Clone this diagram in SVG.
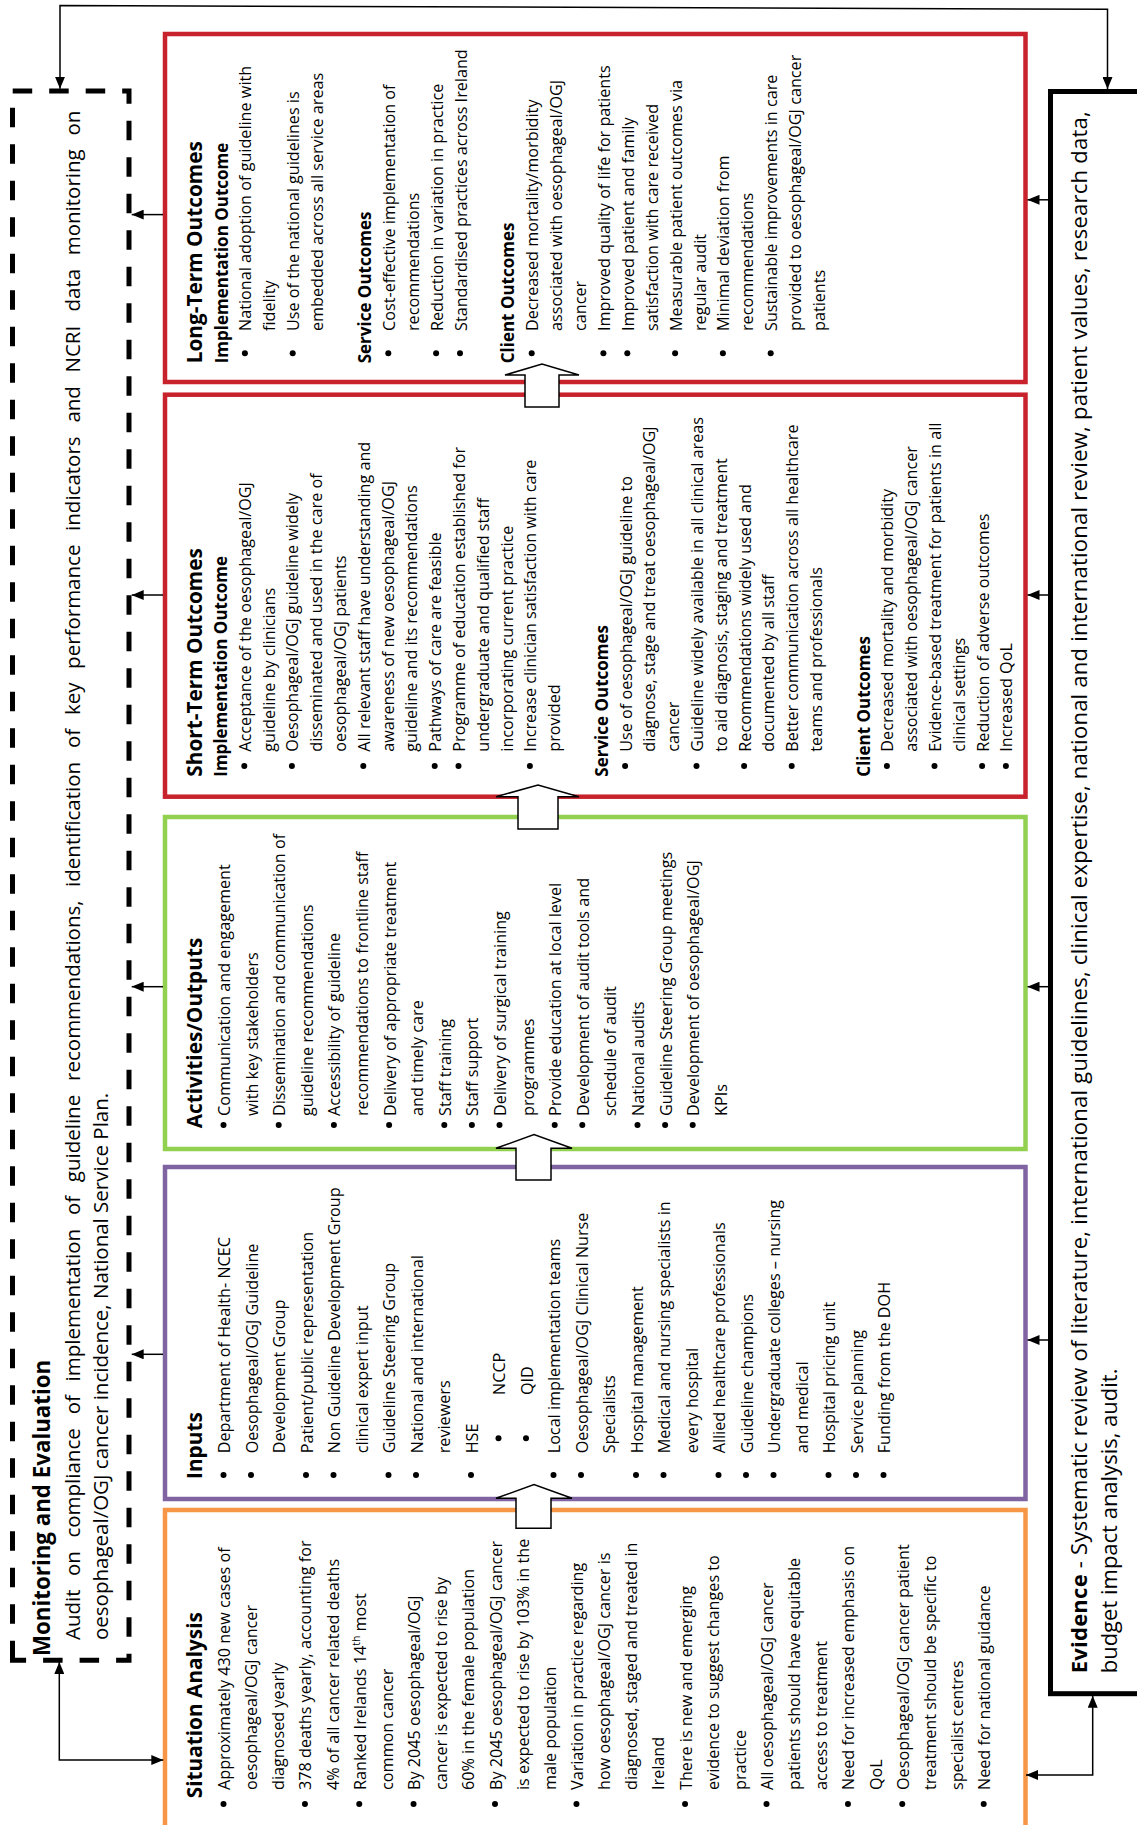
<svg xmlns="http://www.w3.org/2000/svg" width="1137" height="1825" viewBox="0 0 1137 1825">
<defs>
<style>
.box{fill:#fff;stroke-width:4.5}
.t{font-family:"Open Sans","Liberation Sans",sans-serif;font-size:16.2px;fill:#000}
.ti{font-family:"Open Sans","Liberation Sans",sans-serif;font-size:20.8px;font-weight:700;fill:#000}
.sh{font-weight:700;font-size:17px}
.bu{fill:#000}
.c{fill:none;stroke:#000;stroke-width:1.5}
.blk{fill:#fff;stroke:#000;stroke-width:1.5;stroke-linejoin:miter}
</style>
<marker id="ah" viewBox="0 0 12 10" refX="12" refY="5" markerWidth="12" markerHeight="10" markerUnits="userSpaceOnUse" orient="auto-start-reverse"><path d="M0,0 L12,5 L0,10 z" fill="#000"/></marker>
</defs>
<rect width="1137" height="1825" fill="#fff"/>
<g transform="translate(0,1825) rotate(-90)">

<g id="node-monitoring">
<rect x="164.7" y="12.5" width="1569.3" height="116.5" fill="#fff" stroke="#000" stroke-width="5" stroke-dasharray="19.5 17"/>
<text class="ti" x="169" y="50" style="font-size:22.3px">Monitoring and Evaluation</text>
<text class="t" y="80" style="font-size:20.5px"><tspan x="185">Audit</tspan><tspan x="249">on</tspan><tspan x="287.4">compliance</tspan><tspan x="410.7">of</tspan><tspan x="443.6">implementation</tspan><tspan x="609.9">of</tspan><tspan x="642.8">guideline</tspan><tspan x="744.1">recommendations,</tspan><tspan x="938.1">identification</tspan><tspan x="1077">of</tspan><tspan x="1109.9">key</tspan><tspan x="1156.1">performance</tspan><tspan x="1294.1">indicators</tspan><tspan x="1402.4">and</tspan><tspan x="1452.5">NCRI</tspan><tspan x="1513.5">data</tspan><tspan x="1569.7">monitoring</tspan><tspan x="1689.5">on</tspan></text>
<text class="t" x="185" y="107.5" style="font-size:20.5px">oesophageal/OGJ cancer incidence, National Service Plan.</text>
</g>

<g id="node-evidence">
<rect x="131.3" y="1050.5" width="1602.2" height="220" fill="#fff" stroke="#000" stroke-width="5"/>
<text class="t" x="151.7" y="1086.7" style="font-size:22px" textLength="1562" lengthAdjust="spacing"><tspan font-weight="700">Evidence</tspan> - Systematic review of literature, international guidelines, clinical expertise, national and international review, patient values, research data,</text>
<text class="t" x="151.7" y="1117" style="font-size:22px">budget impact analysis, audit.</text>
</g>

<g id="node-situation">
<rect class="box" x="-10" y="165" width="325" height="860.5" stroke="#F79646"/>
<text class="ti" x="26.7" y="201.7">Situation Analysis</text>
<g class="bu">
<circle cx="21" cy="223.5" r="3"/><circle cx="21" cy="304.95" r="3"/><circle cx="21" cy="359.25" r="3"/><circle cx="21" cy="413.55" r="3"/><circle cx="21" cy="495" r="3"/><circle cx="21" cy="576.45" r="3"/><circle cx="21" cy="685.05" r="3"/><circle cx="21" cy="766.5" r="3"/><circle cx="21" cy="847.95" r="3"/><circle cx="21" cy="902.25" r="3"/><circle cx="21" cy="983.7" r="3"/>
</g>
<text class="t">
<tspan x="35" y="230">Approximately 430 new cases of</tspan>
<tspan x="35" y="257.15">oesophageal/OGJ cancer</tspan>
<tspan x="35" y="284.3">diagnosed yearly</tspan>
<tspan x="35" y="311.45">378 deaths yearly, accounting for</tspan>
<tspan x="35" y="338.6">4% of all cancer related deaths</tspan>
<tspan x="35" y="365.75">Ranked Irelands 14</tspan><tspan dy="-6" style="font-size:10.5px">th</tspan><tspan dy="6"> most</tspan>
<tspan x="35" y="392.9">common cancer</tspan>
<tspan x="35" y="420.05">By 2045 oesophageal/OGJ</tspan>
<tspan x="35" y="447.2">cancer is expected to rise by</tspan>
<tspan x="35" y="474.35">60% in the female population</tspan>
<tspan x="35" y="501.5">By 2045 oesophageal/OGJ cancer</tspan>
<tspan x="35" y="528.65">is expected to rise by 103% in the</tspan>
<tspan x="35" y="555.8">male population</tspan>
<tspan x="35" y="582.95">Variation in practice regarding</tspan>
<tspan x="35" y="610.1">how oesophageal/OGJ cancer is</tspan>
<tspan x="35" y="637.25">diagnosed, staged and treated in</tspan>
<tspan x="35" y="664.4">Ireland</tspan>
<tspan x="35" y="691.55">There is new and emerging</tspan>
<tspan x="35" y="718.7">evidence to suggest changes to</tspan>
<tspan x="35" y="745.85">practice</tspan>
<tspan x="35" y="773">All oesophageal/OGJ cancer</tspan>
<tspan x="35" y="800.15">patients should have equitable</tspan>
<tspan x="35" y="827.3">access to treatment</tspan>
<tspan x="35" y="854.45">Need for increased emphasis on</tspan>
<tspan x="35" y="881.6">QoL</tspan>
<tspan x="35" y="908.75">Oesophageal/OGJ cancer patient</tspan>
<tspan x="35" y="935.9">treatment should be specific to</tspan>
<tspan x="35" y="963.05">specialist centres</tspan>
<tspan x="35" y="990.2">Need for national guidance</tspan>
</text>
</g>

<g id="node-inputs">
<rect class="box" x="326" y="165" width="332" height="860.5" stroke="#8064A2"/>
<text class="ti" x="346" y="201.7">Inputs</text>
<g class="bu">
<circle cx="350" cy="223.5" r="3"/><circle cx="350" cy="251" r="3"/><circle cx="350" cy="306" r="3"/><circle cx="350" cy="333.5" r="3"/><circle cx="350" cy="388.5" r="3"/><circle cx="350" cy="416" r="3"/><circle cx="350" cy="471" r="3"/><circle cx="386.7" cy="498.5" r="3"/><circle cx="386.7" cy="526" r="3"/><circle cx="350" cy="553.5" r="3"/><circle cx="350" cy="581" r="3"/><circle cx="350" cy="636" r="3"/><circle cx="350" cy="663.5" r="3"/><circle cx="350" cy="718.5" r="3"/><circle cx="350" cy="746" r="3"/><circle cx="350" cy="773.5" r="3"/><circle cx="350" cy="828.5" r="3"/><circle cx="350" cy="856" r="3"/><circle cx="350" cy="883.5" r="3"/>
</g>
<text class="t">
<tspan x="371.7" y="230">Department of Health- NCEC</tspan>
<tspan x="371.7" y="257.5">Oesophageal/OGJ Guideline</tspan>
<tspan x="371.7" y="285">Development Group</tspan>
<tspan x="371.7" y="312.5">Patient/public representation</tspan>
<tspan x="371.7" y="340">Non Guideline Development Group</tspan>
<tspan x="371.7" y="367.5">clinical expert input</tspan>
<tspan x="371.7" y="395">Guideline Steering Group</tspan>
<tspan x="371.7" y="422.5">National and international</tspan>
<tspan x="371.7" y="450">reviewers</tspan>
<tspan x="371.7" y="477.5">HSE</tspan>
<tspan x="430" y="505">NCCP</tspan>
<tspan x="430" y="532.5">QID</tspan>
<tspan x="371.7" y="560">Local implementation teams</tspan>
<tspan x="371.7" y="587.5">Oesophageal/OGJ Clinical Nurse</tspan>
<tspan x="371.7" y="615">Specialists</tspan>
<tspan x="371.7" y="642.5">Hospital management</tspan>
<tspan x="371.7" y="670">Medical and nursing specialists in</tspan>
<tspan x="371.7" y="697.5">every hospital</tspan>
<tspan x="371.7" y="725">Allied healthcare professionals</tspan>
<tspan x="371.7" y="752.5">Guideline champions</tspan>
<tspan x="371.7" y="780">Undergraduate colleges – nursing</tspan>
<tspan x="371.7" y="807.5">and medical</tspan>
<tspan x="371.7" y="835">Hospital pricing unit</tspan>
<tspan x="371.7" y="862.5">Service planning</tspan>
<tspan x="371.7" y="890">Funding from the DOH</tspan>
</text>
</g>

<g id="node-activities">
<rect class="box" x="676" y="165" width="332" height="860.5" stroke="#92D050"/>
<text class="ti" x="696.7" y="201.7">Activities/Outputs</text>
<g class="bu">
<circle cx="700" cy="223.5" r="3"/><circle cx="700" cy="278.7" r="3"/><circle cx="700" cy="333.9" r="3"/><circle cx="700" cy="389.1" r="3"/><circle cx="700" cy="444.3" r="3"/><circle cx="700" cy="471.9" r="3"/><circle cx="700" cy="499.5" r="3"/><circle cx="700" cy="554.7" r="3"/><circle cx="700" cy="582.3" r="3"/><circle cx="700" cy="637.5" r="3"/><circle cx="700" cy="665.1" r="3"/><circle cx="700" cy="692.7" r="3"/>
</g>
<text class="t">
<tspan x="709" y="230">Communication and engagement</tspan>
<tspan x="709" y="257.6">with key stakeholders</tspan>
<tspan x="709" y="285.2">Dissemination and communication of</tspan>
<tspan x="709" y="312.8">guideline recommendations</tspan>
<tspan x="709" y="340.4">Accessibility of guideline</tspan>
<tspan x="709" y="368">recommendations to frontline staff</tspan>
<tspan x="709" y="395.6">Delivery of appropriate treatment</tspan>
<tspan x="709" y="423.2">and timely care</tspan>
<tspan x="709" y="450.8">Staff training</tspan>
<tspan x="709" y="478.4">Staff support</tspan>
<tspan x="709" y="506">Delivery of surgical training</tspan>
<tspan x="709" y="533.6">programmes</tspan>
<tspan x="709" y="561.2">Provide education at local level</tspan>
<tspan x="709" y="588.8">Development of audit tools and</tspan>
<tspan x="709" y="616.4">schedule of audit</tspan>
<tspan x="709" y="644">National audits</tspan>
<tspan x="709" y="671.6">Guideline Steering Group meetings</tspan>
<tspan x="709" y="699.2">Development of oesophageal/OGJ</tspan>
<tspan x="709" y="726.8">KPIs</tspan>
</text>
</g>

<g id="node-short-term">
<rect class="box" x="1028.3" y="165" width="402" height="860.5" stroke="#C8232C"/>
<text class="ti" x="1048.3" y="201.7">Short-Term Outcomes</text>
<g class="bu">
<circle cx="1059" cy="244.3" r="3"/><circle cx="1059" cy="291.9" r="3"/><circle cx="1059" cy="363.3" r="3"/><circle cx="1059" cy="434.7" r="3"/><circle cx="1059" cy="458.5" r="3"/><circle cx="1059" cy="529.9" r="3"/><circle cx="1059" cy="625.1" r="3"/><circle cx="1059" cy="696.5" r="3"/><circle cx="1059" cy="744.1" r="3"/><circle cx="1059" cy="791.7" r="3"/><circle cx="1059" cy="886.9" r="3"/><circle cx="1059" cy="934.5" r="3"/><circle cx="1059" cy="982.1" r="3"/><circle cx="1059" cy="1005.9" r="3"/>
</g>
<text class="t">
<tspan class="sh" x="1048.3" y="227">Implementation Outcome</tspan>
<tspan x="1073.3" y="250.8">Acceptance of the oesophageal/OGJ</tspan>
<tspan x="1073.3" y="274.6">guideline by clinicians</tspan>
<tspan x="1073.3" y="298.4">Oesophageal/OGJ guideline widely</tspan>
<tspan x="1073.3" y="322.2">disseminated and used in the care of</tspan>
<tspan x="1073.3" y="346">oesophageal/OGJ patients</tspan>
<tspan x="1073.3" y="369.8">All relevant staff have understanding and</tspan>
<tspan x="1073.3" y="393.6">awareness of new oesophageal/OGJ</tspan>
<tspan x="1073.3" y="417.4">guideline and its recommendations</tspan>
<tspan x="1073.3" y="441.2">Pathways of care are feasible</tspan>
<tspan x="1073.3" y="465">Programme of education established for</tspan>
<tspan x="1073.3" y="488.8">undergraduate and qualified staff</tspan>
<tspan x="1073.3" y="512.6">incorporating current practice</tspan>
<tspan x="1073.3" y="536.4">Increase clinician satisfaction with care</tspan>
<tspan x="1073.3" y="560.2">provided</tspan>
<tspan class="sh" x="1048.3" y="607.8">Service Outcomes</tspan>
<tspan x="1073.3" y="631.6">Use of oesophageal/OGJ guideline to</tspan>
<tspan x="1073.3" y="655.4">diagnose, stage and treat oesophageal/OGJ</tspan>
<tspan x="1073.3" y="679.2">cancer</tspan>
<tspan x="1073.3" y="703">Guideline widely available in all clinical areas</tspan>
<tspan x="1073.3" y="726.8">to aid diagnosis, staging and treatment</tspan>
<tspan x="1073.3" y="750.6">Recommendations widely used and</tspan>
<tspan x="1073.3" y="774.4">documented by all staff</tspan>
<tspan x="1073.3" y="798.2">Better communication across all healthcare</tspan>
<tspan x="1073.3" y="822">teams and professionals</tspan>
<tspan class="sh" x="1048.3" y="869.6">Client Outcomes</tspan>
<tspan x="1073.3" y="893.4">Decreased mortality and morbidity</tspan>
<tspan x="1073.3" y="917.2">associated with oesophageal/OGJ cancer</tspan>
<tspan x="1073.3" y="941">Evidence-based treatment for patients in all</tspan>
<tspan x="1073.3" y="964.8">clinical settings</tspan>
<tspan x="1073.3" y="988.6">Reduction of adverse outcomes</tspan>
<tspan x="1073.3" y="1012.4">Increased QoL</tspan>
</text>
</g>

<g id="node-long-term">
<rect class="box" x="1443" y="165" width="348" height="860.5" stroke="#C8232C"/>
<text class="ti" x="1461.7" y="202">Long-Term Outcomes</text>
<g class="bu">
<circle cx="1471.7" cy="244.9" r="3"/><circle cx="1471.7" cy="292.7" r="3"/><circle cx="1471.7" cy="388.3" r="3"/><circle cx="1471.7" cy="436.1" r="3"/><circle cx="1471.7" cy="460" r="3"/><circle cx="1471.7" cy="531.7" r="3"/><circle cx="1471.7" cy="603.4" r="3"/><circle cx="1471.7" cy="627.3" r="3"/><circle cx="1471.7" cy="675.1" r="3"/><circle cx="1471.7" cy="722.9" r="3"/><circle cx="1471.7" cy="770.7" r="3"/>
</g>
<text class="t">
<tspan class="sh" x="1461.7" y="227.5">Implementation Outcome</tspan>
<tspan x="1494" y="251.4">National adoption of guideline with</tspan>
<tspan x="1494" y="275.3">fidelity</tspan>
<tspan x="1494" y="299.2">Use of the national guidelines is</tspan>
<tspan x="1494" y="323.1">embedded across all service areas</tspan>
<tspan class="sh" x="1461.7" y="370.9">Service Outcomes</tspan>
<tspan x="1494" y="394.8">Cost-effective implementation of</tspan>
<tspan x="1494" y="418.7">recommendations</tspan>
<tspan x="1494" y="442.6">Reduction in variation in practice</tspan>
<tspan x="1494" y="466.5">Standardised practices across Ireland</tspan>
<tspan class="sh" x="1461.7" y="514.3">Client Outcomes</tspan>
<tspan x="1494" y="538.2">Decreased mortality/morbidity</tspan>
<tspan x="1494" y="562.1">associated with oesophageal/OGJ</tspan>
<tspan x="1494" y="586">cancer</tspan>
<tspan x="1494" y="609.9">Improved quality of life for patients</tspan>
<tspan x="1494" y="633.8">Improved patient and family</tspan>
<tspan x="1494" y="657.7">satisfaction with care received</tspan>
<tspan x="1494" y="681.6">Measurable patient outcomes via</tspan>
<tspan x="1494" y="705.5">regular audit</tspan>
<tspan x="1494" y="729.4">Minimal deviation from</tspan>
<tspan x="1494" y="753.3">recommendations</tspan>
<tspan x="1494" y="777.2">Sustainable improvements in care</tspan>
<tspan x="1494" y="801.1">provided to oesophageal/OGJ cancer</tspan>
<tspan x="1494" y="825">patients</tspan>
</text>
</g>

<g id="connectors">
<polygon class="blk" points="296.7,516 326.7,516 326.7,496 340.4,534 326.7,572 326.7,551 296.7,551"/>
<polygon class="blk" points="645,516 676.7,516 676.7,496 690.4,534 676.7,572 676.7,551 645,551"/>
<polygon class="blk" points="996,518 1028.3,518 1028.3,496 1040,538 1028.3,579 1028.3,558 996,558"/>
<polygon class="blk" points="1418,525 1450,525 1450,505 1461,542 1450,579 1450,559 1418,559"/>
<path class="c" marker-end="url(#ah)" d="M470.7 163 L470.7 131.7"/>
<path class="c" marker-end="url(#ah)" d="M838.3 163 L838.3 131.7"/>
<path class="c" marker-end="url(#ah)" d="M1230 163 L1230 131.7"/>
<path class="c" marker-end="url(#ah)" d="M1610.4 163 L1610.4 131.7"/>
<path class="c" marker-end="url(#ah)" d="M485 1048 L485 1027.5"/>
<path class="c" marker-end="url(#ah)" d="M838.3 1048 L838.3 1027.5"/>
<path class="c" marker-end="url(#ah)" d="M1230 1048 L1230 1027.5"/>
<path class="c" marker-end="url(#ah)" d="M1625.2 1048 L1625.2 1027.5"/>
<path class="c" marker-start="url(#ah)" marker-end="url(#ah)" d="M163 59.3 L65 59.3 L65 163.3"/>
<path class="c" marker-start="url(#ah)" marker-end="url(#ah)" d="M129.3 1092.7 L50 1092.7 L50 1026"/>
<path class="c" marker-start="url(#ah)" marker-end="url(#ah)" d="M1736.2 60 L1819.5 60 L1815.8 1107.5 L1736 1107.5"/>
</g>

</g>
</svg>
